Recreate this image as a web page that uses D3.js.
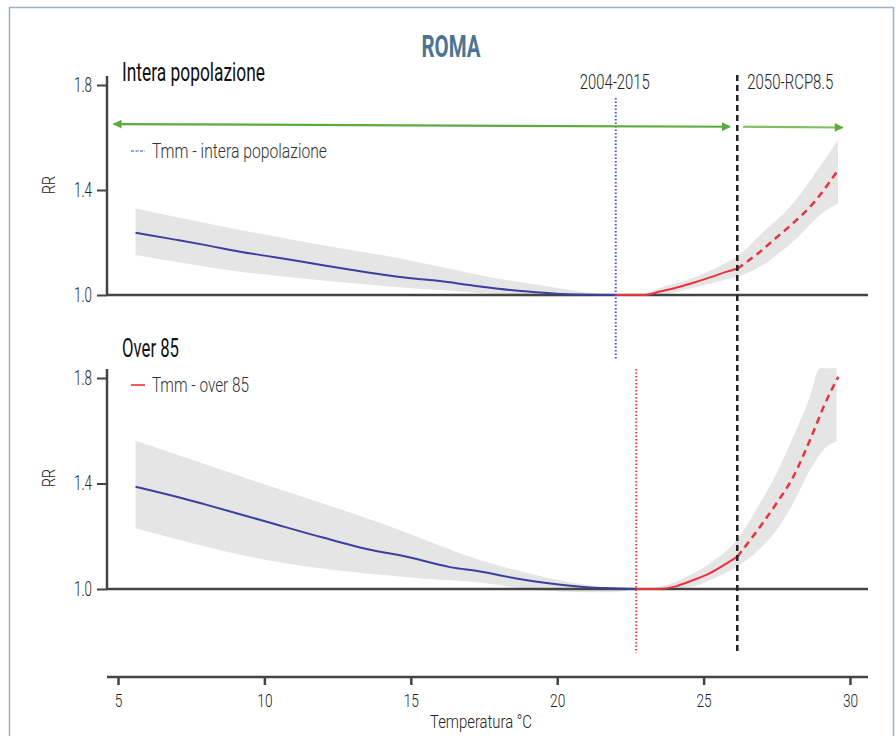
<!DOCTYPE html>
<html><head><meta charset="utf-8">
<script src="https://cdn.jsdelivr.net/npm/d3@7"></script>
<style>
html,body{margin:0;padding:0;background:#fff;}
svg{display:block;}
</style></head>
<body>
<svg id="chart" width="896" height="736"></svg>
<script>
// ---------------- DATA ----------------
const xTicks = [5, 10, 15, 20, 25, 30];
const yTicks = [1.0, 1.4, 1.8];
const refPeriods = ["2004-2015", "2050-RCP8.5"];
const refTemps = { mmtAll: 22.0, mmt85: 22.7, future: 26.15 };
const arrowTemps = [4.85, 25.9, 26.35, 29.75];
const arrowRR = [1.651, 1.641, 1.641, 1.638];

// Panel 1: Intera popolazione
const p1BlueT  = [5.6, 7, 8, 9.17, 10, 11, 12, 13, 14, 15, 16, 17, 18, 19, 20, 21, 22];
const p1BlueRR = [1.237, 1.21, 1.19, 1.165, 1.15, 1.132, 1.113, 1.095, 1.078, 1.064, 1.053, 1.038, 1.024, 1.013, 1.005, 1.001, 1.0];
const p1BlueBandT  = [5.6, 9.17, 12, 14.6, 16, 18, 19.4, 21, 22];
const p1BlueBandUp = [1.33, 1.248, 1.19, 1.14, 1.108, 1.062, 1.038, 1.01, 1.0];
const p1BlueBandLo = [1.152, 1.089, 1.055, 1.03, 1.019, 1.003, 0.994, 0.995, 1.0];
const p1RedT  = [22, 23, 23.5, 24.0, 24.6, 25.2, 25.8, 26.15];
const p1RedRR = [1.0, 1.0, 1.013, 1.026, 1.045, 1.066, 1.089, 1.10];
const p1RedDashT  = [26.15, 26.93, 27.5, 28.05, 28.74, 29.59];
const p1RedDashRR = [1.10, 1.165, 1.22, 1.273, 1.349, 1.476];
const p1RedBandT  = [22, 23, 23.5, 24.6, 25.8, 26.13, 26.93, 28.05, 29.2, 29.59];
const p1RedBandUp = [1.0, 1.005, 1.027, 1.064, 1.125, 1.146, 1.229, 1.349, 1.527, 1.59];
const p1RedBandLo = [1.0, 0.998, 1.0, 1.027, 1.06, 1.07, 1.108, 1.203, 1.324, 1.349];

// Panel 2: Over 85
const p2BlueT  = [5.6, 7, 8, 10.08, 12, 13.95, 14.63, 16.34, 17.36, 18.6, 20.2, 21.0, 21.8, 22.7];
const p2BlueRR = [1.388, 1.35, 1.32, 1.255, 1.195, 1.141, 1.128, 1.083, 1.066, 1.04, 1.015, 1.007, 1.003, 1.0];
const p2BlueBandT  = [5.6, 10.08, 14.63, 15.4, 17.36, 19, 20.3, 21.8, 22.7];
const p2BlueBandUp = [1.562, 1.394, 1.223, 1.19, 1.11, 1.06, 1.028, 1.005, 1.0];
const p2BlueBandLo = [1.23, 1.11, 1.047, 1.04, 1.025, 1.0, 0.99, 0.988, 1.0];
const p2RedT  = [22.7, 23.4, 24.08, 24.65, 25.22, 25.79, 26.15];
const p2RedRR = [1.0, 1.0, 1.011, 1.034, 1.06, 1.097, 1.122];
const p2RedDashT  = [26.15, 26.93, 27.49, 28.06, 28.63, 29.2, 29.6];
const p2RedDashRR = [1.122, 1.236, 1.325, 1.425, 1.564, 1.716, 1.804];
const p2RedBandT  = [22.7, 23.51, 24.65, 25.22, 26.13, 26.93, 27.49, 28.06, 28.63, 28.97, 29.2, 29.54];
const p2RedBandUp = [1.0, 1.009, 1.06, 1.098, 1.186, 1.325, 1.438, 1.577, 1.728, 1.837, 1.837, 1.837];
const p2RedBandLo = [1.0, 1.0, 1.009, 1.034, 1.084, 1.154, 1.223, 1.325, 1.45, 1.51, 1.54, 1.558];

// ---------------- STYLE ----------------
const FONT = "Roboto,'DejaVu Sans Condensed',sans-serif";
const C = { blue: "#3b3f9e", red: "#e8323c", band: "#e5e5e5", axis: "#444",
            green: "#5cab3c", title: "#4d7393", frame: "#9db1c4", text: "#222" };

// compress text horizontally to the reference's condensed look
function squeeze(sel, width) {
  sel.each(function () {
    const w = width != null ? width : this.getComputedTextLength() * 0.72;
    d3.select(this).attr("textLength", w).attr("lengthAdjust", "spacingAndGlyphs");
  });
}

const svg = d3.select("#chart");
svg.append("rect").attr("x", 9.5).attr("y", 7.5).attr("width", 884).attr("height", 740)
  .attr("fill", "#fff").attr("stroke", C.frame).attr("stroke-width", 1.5);

svg.append("text").attr("x", 451).attr("y", 57).attr("text-anchor", "middle")
  .attr("font-family", FONT).attr("font-weight", "bold").attr("font-size", 31)
  .attr("fill", C.title).text("ROMA").call(squeeze, 59);

const x = d3.scaleLinear().domain([5, 30]).range([118, 850]);
const axisX0 = 107, axisX1 = 868;

function zip(T, V) { return T.map((t, i) => [t, V[i]]); }
function zip3(T, U, L) { return T.map((t, i) => [t, U[i], L[i]]); }

function panel(cfg) {
  const y = d3.scaleLinear().domain([1.0, 1.8]).range(cfg.range);
  const g = svg.append("g");
  const area = d3.area().x(d => x(d[0])).y0(d => y(d[2])).y1(d => y(d[1])).curve(d3.curveMonotoneX);
  const line = d3.line().x(d => x(d[0])).y(d => y(d[1])).curve(d3.curveMonotoneX);

  g.append("path").datum(zip3(cfg.blueBandT, cfg.blueBandUp, cfg.blueBandLo)).attr("d", area).attr("fill", C.band);
  g.append("path").datum(zip3(cfg.redBandT, cfg.redBandUp, cfg.redBandLo)).attr("d", area).attr("fill", C.band);

  // y axis
  const ya = g.append("g").attr("transform", `translate(${axisX0},0)`)
    .call(d3.axisLeft(y).tickValues(yTicks).tickFormat(d3.format(".1f")).tickSize(10).tickPadding(5));
  ya.select(".domain").remove();
  ya.selectAll(".tick line").attr("stroke", C.axis).attr("stroke-width", 2);
  ya.selectAll(".tick text").attr("font-family", FONT).attr("font-size", 20).attr("fill", C.text)
    .attr("font-weight", 300).call(squeeze, 18);
  g.append("line").attr("x1", axisX0).attr("x2", axisX0).attr("y1", y(1.0) + 1).attr("y2", cfg.axisTop)
    .attr("stroke", C.axis).attr("stroke-width", 2.5);
  // baseline
  g.append("line").attr("x1", axisX0).attr("x2", axisX1).attr("y1", y(1.0)).attr("y2", y(1.0))
    .attr("stroke", C.axis).attr("stroke-width", 2.5);

  g.append("text").attr("transform", `translate(55,${cfg.rrY}) rotate(-90)`).attr("text-anchor", "middle")
    .attr("font-family", FONT).attr("font-size", 19).attr("font-weight", 300).attr("fill", C.text)
    .text("RR").call(squeeze, 18);

  g.append("path").datum(zip(cfg.blueT, cfg.blueRR)).attr("d", line)
    .attr("fill", "none").attr("stroke", C.blue).attr("stroke-width", 2);
  g.append("path").datum(zip(cfg.redT, cfg.redRR)).attr("d", line)
    .attr("fill", "none").attr("stroke", C.red).attr("stroke-width", 2);
  g.append("path").datum(zip(cfg.redDashT, cfg.redDashRR)).attr("d", line)
    .attr("fill", "none").attr("stroke", C.red).attr("stroke-width", 2.5).attr("stroke-dasharray", "7,5");

  g.append("text").attr("x", 122).attr("y", cfg.titleY).attr("font-family", FONT)
    .attr("font-size", 25).attr("fill", "#111").text(cfg.title).call(squeeze, cfg.titleW);

  // legend
  g.append("line").attr("x1", 131).attr("x2", 145).attr("y1", cfg.legY).attr("y2", cfg.legY)
    .attr("stroke", cfg.legColor).attr("stroke-width", 2).attr("stroke-dasharray", cfg.legDash);
  g.append("text").attr("x", 152).attr("y", cfg.legY).attr("dy", "0.35em").attr("font-family", FONT)
    .attr("font-size", 21).attr("font-weight", 300).attr("fill", "#333").text(cfg.legText).call(squeeze, cfg.legW);
  return y;
}

const y1 = panel({
  range: [295, 85], axisTop: 76, rrY: 185, titleY: 81, title: "Intera popolazione", titleW: 143,
  blueT: p1BlueT, blueRR: p1BlueRR, blueBandT: p1BlueBandT, blueBandUp: p1BlueBandUp, blueBandLo: p1BlueBandLo,
  redT: p1RedT, redRR: p1RedRR, redDashT: p1RedDashT, redDashRR: p1RedDashRR,
  redBandT: p1RedBandT, redBandUp: p1RedBandUp, redBandLo: p1RedBandLo,
  legY: 151, legColor: "#8fa6e2", legDash: "3,1.5", legText: "Tmm - intera popolazione", legW: 175
});
const y2 = panel({
  range: [589, 378], axisTop: 369, rrY: 478, titleY: 357, title: "Over 85", titleW: 57,
  blueT: p2BlueT, blueRR: p2BlueRR, blueBandT: p2BlueBandT, blueBandUp: p2BlueBandUp, blueBandLo: p2BlueBandLo,
  redT: p2RedT, redRR: p2RedRR, redDashT: p2RedDashT, redDashRR: p2RedDashRR,
  redBandT: p2RedBandT, redBandUp: p2RedBandUp, redBandLo: p2RedBandLo,
  legY: 385, legColor: "#f05a5a", legDash: null, legText: "Tmm - over 85", legW: 97
});

// x axis
const xa = svg.append("g").attr("transform", "translate(0,677)")
  .call(d3.axisBottom(x).tickValues(xTicks).tickSize(8).tickPadding(9));
xa.select(".domain").remove();
xa.selectAll(".tick line").attr("stroke", C.axis).attr("stroke-width", 2.5);
xa.selectAll(".tick text").attr("font-family", FONT).attr("font-size", 19).attr("font-weight", 300)
  .attr("fill", C.text).call(squeeze, null);
svg.append("line").attr("x1", axisX0).attr("x2", axisX1).attr("y1", 677).attr("y2", 677)
  .attr("stroke", C.axis).attr("stroke-width", 2.5);
svg.append("text").attr("x", 481).attr("y", 728).attr("text-anchor", "middle")
  .attr("font-family", FONT).attr("font-size", 19).attr("font-weight", 300).attr("fill", C.text)
  .text("Temperatura °C").call(squeeze, 102);

// reference vertical lines
svg.append("line").attr("x1", x(refTemps.mmtAll)).attr("x2", x(refTemps.mmtAll)).attr("y1", 98).attr("y2", 360)
  .attr("stroke", "#4a55cc").attr("stroke-width", 2).attr("stroke-dasharray", "1.5,2");
svg.append("line").attr("x1", x(refTemps.mmt85)).attr("x2", x(refTemps.mmt85)).attr("y1", 369).attr("y2", 653)
  .attr("stroke", "#e83a48").attr("stroke-width", 2).attr("stroke-dasharray", "1.5,2");
svg.append("line").attr("x1", x(refTemps.future)).attr("x2", x(refTemps.future)).attr("y1", 75).attr("y2", 653)
  .attr("stroke", "#222").attr("stroke-width", 2.5).attr("stroke-dasharray", "6,4");

svg.append("text").attr("x", x(refTemps.mmtAll) - 1).attr("y", 89).attr("text-anchor", "middle")
  .attr("font-family", FONT).attr("font-size", 21).attr("font-weight", 300).attr("fill", C.text)
  .text(refPeriods[0]).call(squeeze, 70);
svg.append("text").attr("x", x(refTemps.future) + 10).attr("y", 89)
  .attr("font-family", FONT).attr("font-size", 21).attr("font-weight", 300).attr("fill", C.text)
  .text(refPeriods[1]).call(squeeze, 86);

// green arrows
const defs = svg.append("defs");
defs.append("marker").attr("id", "ah").attr("viewBox", "0 0 10 10").attr("refX", 9).attr("refY", 5)
  .attr("markerWidth", 5).attr("markerHeight", 4).attr("markerUnits", "strokeWidth").attr("orient", "auto-start-reverse")
  .append("path").attr("d", "M0,0 L10,5 L0,10 Z").attr("fill", C.green);
svg.append("line").attr("x1", x(arrowTemps[0])).attr("y1", y1(arrowRR[0]))
  .attr("x2", x(arrowTemps[1])).attr("y2", y1(arrowRR[1]))
  .attr("stroke", C.green).attr("stroke-width", 2.2)
  .attr("marker-start", "url(#ah)").attr("marker-end", "url(#ah)");
svg.append("line").attr("x1", x(arrowTemps[2])).attr("y1", y1(arrowRR[2]))
  .attr("x2", x(arrowTemps[3])).attr("y2", y1(arrowRR[3]))
  .attr("stroke", "#7cc060").attr("stroke-width", 2.2).attr("marker-end", "url(#ah)");
</script>
</body></html>
